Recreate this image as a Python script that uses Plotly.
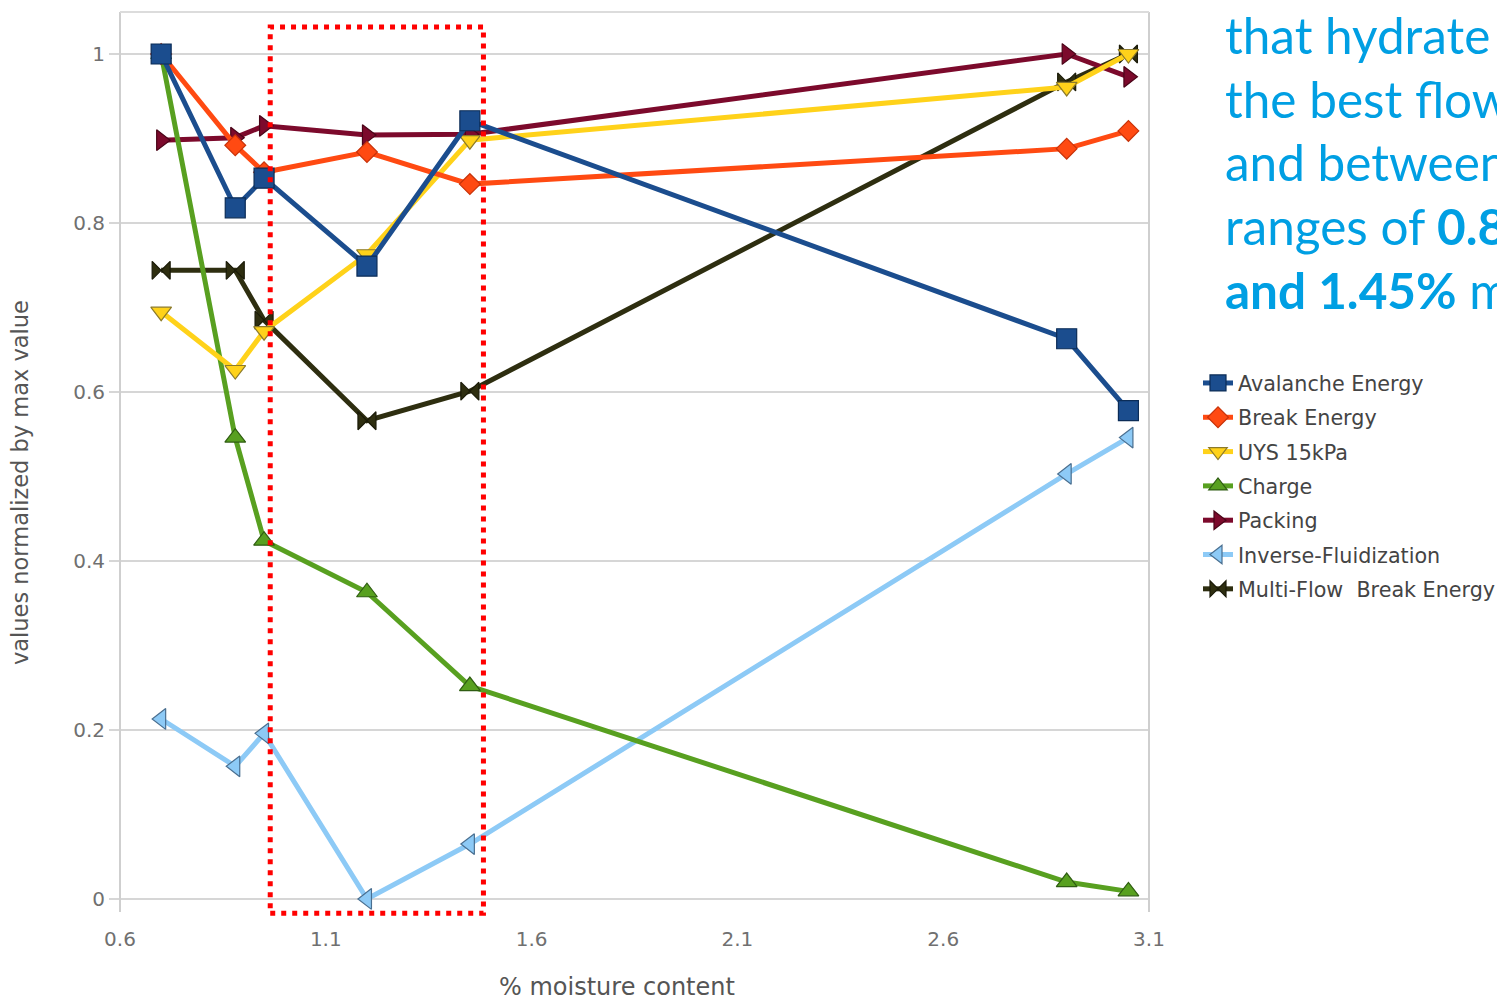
import plotly.graph_objects as go

# ---------------- data ----------------
moisture = [0.7, 0.88, 0.95, 1.2, 1.45, 2.9, 3.05]
avalanche_energy = [1.0, 0.818, 0.853, 0.749, 0.921, 0.663, 0.578]
break_energy = [1.0, 0.892, 0.860, 0.884, 0.846, 0.888, 0.909]
uys_15kpa = [0.695, 0.626, 0.672, 0.763, 0.898, 0.961, 1.0]
charge = [1.0, 0.546, 0.424, 0.363, 0.252, 0.020, 0.009]
packing = [0.898, 0.901, 0.915, 0.904, 0.905, 1.0, 0.973]
inverse_fluidization = [0.213, 0.157, 0.196, 0.0, 0.065, 0.503, 0.546]
multi_flow_break = [0.744, 0.744, 0.685, 0.566, 0.601, 0.967, 1.0]

series_names = ["Avalanche Energy", "Break Energy", "UYS 15kPa", "Charge",
                "Packing", "Inverse-Fluidization", "Multi-Flow  Break Energy"]

x_tick_vals = [0.6, 1.1, 1.6, 2.1, 2.6, 3.1]
x_tick_text = ["0.6", "1.1", "1.6", "2.1", "2.6", "3.1"]
y_tick_vals = [0, 0.2, 0.4, 0.6, 0.8, 1.0]
y_tick_text = ["0", "0.2", "0.4", "0.6", "0.8", "1"]

highlight_x = [0.965, 1.483]
highlight_y = [-0.017, 1.032]

note_lines = ["that hydrate", "the best flow", "and between",
              "ranges of <b>0.8</b>", "<b>and 1.45%</b> m"]

# ---------------- styling ----------------
styles = {
    "Avalanche Energy": dict(color="#1b4d8e", symbol="square", size=20, edge="#0b2c57"),
    "Break Energy": dict(color="#ff4a12", symbol="diamond", size=16, edge="#c8330a"),
    "UYS 15kPa": dict(color="#ffd21a", symbol="triangle-down", size=18, edge="#8c7a2a"),
    "Charge": dict(color="#58a020", symbol="triangle-up", size=18, edge="#2f5d12"),
    "Packing": dict(color="#7c0a2c", symbol="triangle-right", size=18, edge="#4a0518"),
    "Inverse-Fluidization": dict(color="#8dcaf6", symbol="triangle-left", size=18, edge="#4a6f90"),
    "Multi-Flow  Break Energy": dict(color="#2e2e10", symbol="bowtie", size=18, edge="#1a1a08"),
}
values = {
    "Avalanche Energy": avalanche_energy,
    "Break Energy": break_energy,
    "UYS 15kPa": uys_15kpa,
    "Charge": charge,
    "Packing": packing,
    "Inverse-Fluidization": inverse_fluidization,
    "Multi-Flow  Break Energy": multi_flow_break,
}

# page body margin is removed below, so figure pixels == page pixels
W, H = 1497, 1000
# plot area in pixels
L, R, T, B = 120, 1149, 12, 925


def px_x(p):
    return (p - L) / (R - L)


def px_y(p):
    return (B - p) / (B - T)


def cx(p):
    return p / W


def cy(p):
    return 1 - p / H


fig = go.Figure()
for rank, name in reversed(list(enumerate(series_names))):
    s = styles[name]
    fig.add_trace(go.Scatter(
        x=moisture, y=values[name], name=name, mode="lines+markers",
        legendgroup=name, legendrank=rank + 1,
        line=dict(color=s["color"], width=5),
        marker=dict(symbol=s["symbol"], size=s["size"], color=s["color"],
                    line=dict(color=s["edge"], width=1.2)),
    ))

# highlighted moisture window
fig.add_shape(type="rect", xref="x", yref="y",
              x0=highlight_x[0], x1=highlight_x[1],
              y0=highlight_y[0], y1=highlight_y[1],
              line=dict(color="#ff0000", width=5, dash="5px,6px"),
              fillcolor="rgba(0,0,0,0)", layer="above")

# frame lines (left, right, top)
frame = "#cfcfcf"
fig.add_shape(type="line", xref="paper", yref="paper", x0=0, x1=0,
              y0=px_y(912), y1=1, line=dict(color=frame, width=2))
fig.add_shape(type="line", xref="paper", yref="paper", x0=1, x1=1,
              y0=px_y(912), y1=1, line=dict(color=frame, width=2))
fig.add_shape(type="line", xref="paper", yref="paper", x0=0, x1=1,
              y0=1, y1=1, line=dict(color="#dcdcdc", width=2))

annotations = []
# axis titles
annotations.append(dict(text="values normalized by max value", textangle=-90,
                        xref="paper", yref="paper", x=px_x(20), y=px_y(483),
                        showarrow=False, xanchor="center", yanchor="middle",
                        font=dict(family="DejaVu Sans", size=22.5, color="#555555")))
annotations.append(dict(text="% moisture content",
                        xref="paper", yref="paper", x=px_x(617), y=px_y(987),
                        showarrow=False, xanchor="center", yanchor="middle",
                        font=dict(family="DejaVu Sans", size=24, color="#555555")))
# blue note text on the right
for i, line in enumerate(note_lines):
    annotations.append(dict(text=line, xref="paper", yref="paper",
                            x=px_x(1223), y=px_y(35 + i * 63.7),
                            showarrow=False, xanchor="left", yanchor="middle",
                            font=dict(family="Lato", size=49.5, color="#009fe3")))

fig.update_layout(
    width=W, height=H,
    margin=dict(l=L, r=W - R, t=T, b=H - B, pad=0, autoexpand=False),
    paper_bgcolor="white", plot_bgcolor="white",
    showlegend=True,
    legend=dict(xref="container", yref="container",
                x=cx(1198), y=cy(363), xanchor="left", yanchor="top",
                traceorder="grouped", tracegroupgap=4.4,
                bgcolor="rgba(0,0,0,0)",
                font=dict(family="DejaVu Sans", size=20.7, color="#444444"),
                itemwidth=30),
    annotations=annotations,
    xaxis=dict(range=[0.6, 3.1], tickvals=x_tick_vals, ticktext=x_tick_text,
               showgrid=False, zeroline=False, showline=False, ticks="",
               tickfont=dict(family="DejaVu Sans", size=20, color="#707070")),
    yaxis=dict(range=[-0.0308, 1.0497],
               tickvals=y_tick_vals, ticktext=y_tick_text,
               showgrid=True, gridcolor="#d6d6d6", gridwidth=2,
               zeroline=False, showline=False,
               ticks="outside", ticklen=10, tickcolor="#d6d6d6", tickwidth=2,
               tickfont=dict(family="DejaVu Sans", size=20, color="#707070")),
)

fig.write_html(
    "out.html",
    config={"displayModeBar": False},
    post_script="document.body.style.margin='0';"
                "document.documentElement.style.overflow='hidden';"
                "document.body.style.overflow='hidden';",
)
